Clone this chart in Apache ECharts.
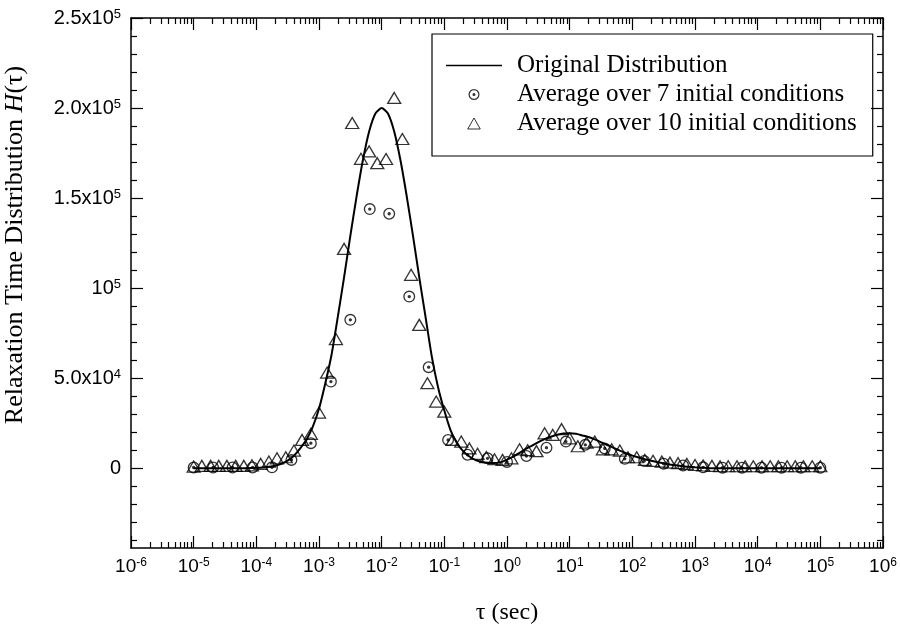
<!DOCTYPE html>
<html><head><meta charset="utf-8">
<script src="https://cdn.jsdelivr.net/npm/echarts@6/dist/echarts.min.js"></script>
<style>html,body{margin:0;padding:0;background:#fff}#c{width:900px;height:635px}</style>
</head><body><div id="c"></div>
<script>
// ---- data (tau given as log10 exponents, H in absolute units) ----
const curveExp = [-5.0,-4.5,-4.2,-4.0,-3.9,-3.8,-3.7,-3.6,-3.5,-3.4,-3.3,-3.2,-3.1,-3.0,-2.9,-2.8,-2.7,-2.6,-2.5,-2.4,-2.3,-2.2,-2.1,-2.0,-1.9,-1.8,-1.7,-1.6,-1.5,-1.4,-1.3,-1.2,-1.1,-1.0,-0.9,-0.8,-0.7,-0.6,-0.5,-0.4,-0.3,-0.2,-0.1,0.0,0.1,0.2,0.3,0.4,0.5,0.6,0.7,0.8,0.9,1.0,1.1,1.2,1.3,1.4,1.5,1.6,1.7,1.8,1.9,2.0,2.1,2.2,2.3,2.4,2.5,2.6,2.7,2.8,2.9,3.0,3.1,3.2,3.3,4.0,5.0];
const curveH = [0,0,0,200,400,800,1400,2500,4200,6900,11000,16000,23000,33000,47000,63000,84000,106000,129000,151000,171000,187000,197000,200000,197000,187000,171000,151000,129000,106000,84000,62000,45000,32000,21000,14000,9500,6500,4500,3500,3000,2900,3400,4800,6500,8500,10800,12600,14500,16200,17500,18600,19300,19400,19100,18200,17300,16000,14400,12900,11300,9800,8400,7000,6000,5000,4100,3300,2700,2100,1600,1100,800,500,300,100,0,0,0];

const avg7Exp = [-5.00,-4.69,-4.38,-4.06,-3.75,-3.44,-3.13,-2.81,-2.50,-2.19,-1.88,-1.56,-1.25,-0.94,-0.63,-0.31,0.00,0.31,0.63,0.94,1.25,1.56,1.88,2.19,2.50,2.81,3.13,3.44,3.75,4.06,4.38,4.69,5.00];
const avg7H = [400,400,400,400,500,4600,13900,48100,82400,143900,141300,95300,56100,15700,7500,5500,3500,6800,11400,14800,13000,11000,5200,4000,2500,1500,500,300,300,300,300,300,300];

const avg10Exp = [-5.00,-4.87,-4.73,-4.60,-4.47,-4.33,-4.20,-4.07,-3.93,-3.80,-3.67,-3.53,-3.40,-3.27,-3.13,-3.00,-2.87,-2.73,-2.60,-2.47,-2.33,-2.20,-2.07,-1.93,-1.80,-1.67,-1.53,-1.40,-1.27,-1.13,-1.00,-0.87,-0.73,-0.60,-0.47,-0.33,-0.20,-0.07,0.07,0.20,0.33,0.47,0.60,0.73,0.87,1.00,1.13,1.27,1.40,1.53,1.67,1.80,1.93,2.07,2.20,2.33,2.47,2.60,2.73,2.87,3.00,3.13,3.27,3.40,3.53,3.67,3.80,3.93,4.07,4.20,4.33,4.47,4.60,4.73,4.87,5.00];
const avg10H = [900,1300,1300,1300,1300,1300,1300,1600,2400,3700,5500,6100,9800,15700,19100,30900,53100,71700,121800,191700,171800,175900,169400,171700,205600,182800,107400,79600,47200,37000,31400,15700,14800,11000,8000,6200,5000,4600,5500,10500,10000,9500,19400,18500,21700,16600,12200,14200,14800,10500,10500,9800,6100,6100,4600,4100,3700,3100,2800,2400,1800,1500,1300,1100,1100,1100,1100,1100,1100,1100,1100,1100,1100,1100,1100,1100];

const seriesNames = ['Original Distribution','Average over 7 initial conditions','Average over 10 initial conditions'];

// ---- ticks ----
const xMajorExp = [-6,-5,-4,-3,-2,-1,0,1,2,3,4,5,6];
const yTickVals = [0,50000,100000,150000,200000,250000];
const yTickLabels = ['{n|0}','{n|5.0x10}{s|4}','{n|10}{s|5}','{n|1.5x10}{s|5}','{n|2.0x10}{s|5}','{n|2.5x10}{s|5}'];
const yMinorVals = [-40000,-30000,-20000,-10000,10000,20000,30000,40000,60000,70000,80000,90000,110000,120000,130000,140000,160000,170000,180000,190000,210000,220000,230000,240000];
const yMin = -44300, yMax = 250000;

const xMajor = xMajorExp.map(e => Math.pow(10, e));
const xMinor = [];
for (let e = -6; e < 6; e++) for (let m = 2; m <= 9; m++) xMinor.push(m * Math.pow(10, e));

const pairs = (ex, h) => ex.map((e, i) => [Math.pow(10, e), h[i]]);

const labFont = 'Liberation Sans';
const serif = 'Liberation Serif';
const richX = {
  n: {fontFamily: labFont, fontSize: 19, color: '#000', lineHeight: 20},
  s: {fontFamily: labFont, fontSize: 12, color: '#000', verticalAlign: 'top', lineHeight: 12}
};
const richY = {
  n: {fontFamily: labFont, fontSize: 20, color: '#000', lineHeight: 21},
  s: {fontFamily: labFont, fontSize: 13, color: '#000', verticalAlign: 'top', lineHeight: 13}
};
const lineS = {color: '#000', width: 1.5};

function xAx(pos, minor, labels) {
  return {
    type: 'log', logBase: 10, min: 1e-6, max: 1e6, position: pos, gridIndex: 0,
    axisLine: {show: !minor, onZero: false, lineStyle: lineS},
    axisTick: {show: true, inside: true, length: minor ? 6 : 12, customValues: minor ? xMinor : xMajor, lineStyle: {color: '#000', width: 1.2}},
    axisLabel: labels ? {show: true, customValues: xMajor, margin: 9, formatter: v => '{n|10}{s|' + Math.round(Math.log10(v)) + '}', rich: richX} : {show: false},
    splitLine: {show: false}, minorTick: {show: false}
  };
}
function yAx(pos, minor, labels) {
  return {
    type: 'value', min: yMin, max: yMax, position: pos, gridIndex: 0,
    axisLine: {show: !minor, onZero: false, lineStyle: lineS},
    axisTick: {show: true, inside: true, length: minor ? 6 : 12, customValues: minor ? yMinorVals : yTickVals, lineStyle: {color: '#000', width: 1.2}},
    axisLabel: labels ? {show: true, customValues: yTickVals, margin: 10, formatter: v => { const i = yTickVals.indexOf(Math.round(v)); return i >= 0 ? yTickLabels[i] : ''; }, rich: richY} : {show: false},
    splitLine: {show: false}
  };
}

const circDot = 'path://M50,0 A50,50 0 1,1 50,100 A50,50 0 1,1 50,0 Z M50,11 A39,39 0 1,0 50,89 A39,39 0 1,0 50,11 Z M50,36 A14,14 0 1,1 50,64 A14,14 0 1,1 50,36 Z';
const triPath = 'path://M50,0 L100,88 L0,88 Z';
const linePath = 'path://M0,0 L100,0 L100,3 L0,3 Z';

const chart = echarts.init(document.getElementById('c'), null, {renderer: 'canvas'});
chart.setOption({
  animation: false,
  backgroundColor: '#fff',
  grid: {left: 131, right: 17, top: 18, bottom: 87, containLabel: false},
  xAxis: [xAx('bottom', false, true), xAx('bottom', true, false), xAx('top', false, false), xAx('top', true, false)],
  yAxis: [yAx('left', false, true), yAx('left', true, false), yAx('right', false, false), yAx('right', true, false)],
  legend: {
    orient: 'vertical', left: 432, top: 34, padding: [19, 16, 20, 14], itemGap: 4,
    itemWidth: 56, itemHeight: 11, borderColor: '#000', borderWidth: 1.2,
    textStyle: {fontFamily: serif, fontSize: 25, color: '#000', padding: [0, 0, 0, 10]},
    data: [
      {name: seriesNames[0], icon: linePath},
      {name: seriesNames[1]},
      {name: seriesNames[2], itemStyle: {color: 'rgba(0,0,0,0)', borderColor: '#000', borderWidth: 1}}
    ]
  },
  series: [
    {name: seriesNames[0], type: 'line', data: pairs(curveExp, curveH), symbol: 'none', smooth: 0.2,
     lineStyle: {color: '#000', width: 2}, itemStyle: {color: '#000'}, z: 2},
    {name: seriesNames[1], type: 'scatter', data: pairs(avg7Exp, avg7H), symbol: circDot, symbolSize: 12,
     itemStyle: {color: '#000'}, z: 3},
    {name: seriesNames[2], type: 'scatter', data: pairs(avg10Exp, avg10H), symbol: triPath, symbolSize: [13, 11],
     itemStyle: {color: 'rgba(0,0,0,0)', borderColor: '#000', borderWidth: 1.3}, z: 4}
  ],
  graphic: [
    {type: 'text', x: 15, y: 245, rotation: Math.PI / 2,
     style: {text: '{a|Relaxation Time Distribution }{i|H}{a|(τ)}', align: 'center', verticalAlign: 'middle',
       rich: {a: {fontFamily: serif, fontSize: 26, fill: '#000'}, i: {fontFamily: serif, fontSize: 26, fontStyle: 'italic', fill: '#000'}}}},
    {type: 'text', x: 507, y: 613,
     style: {text: 'τ (sec)', fontFamily: serif, fontSize: 24, fill: '#000', align: 'center', verticalAlign: 'middle'}}
  ]
});
</script></body></html>
